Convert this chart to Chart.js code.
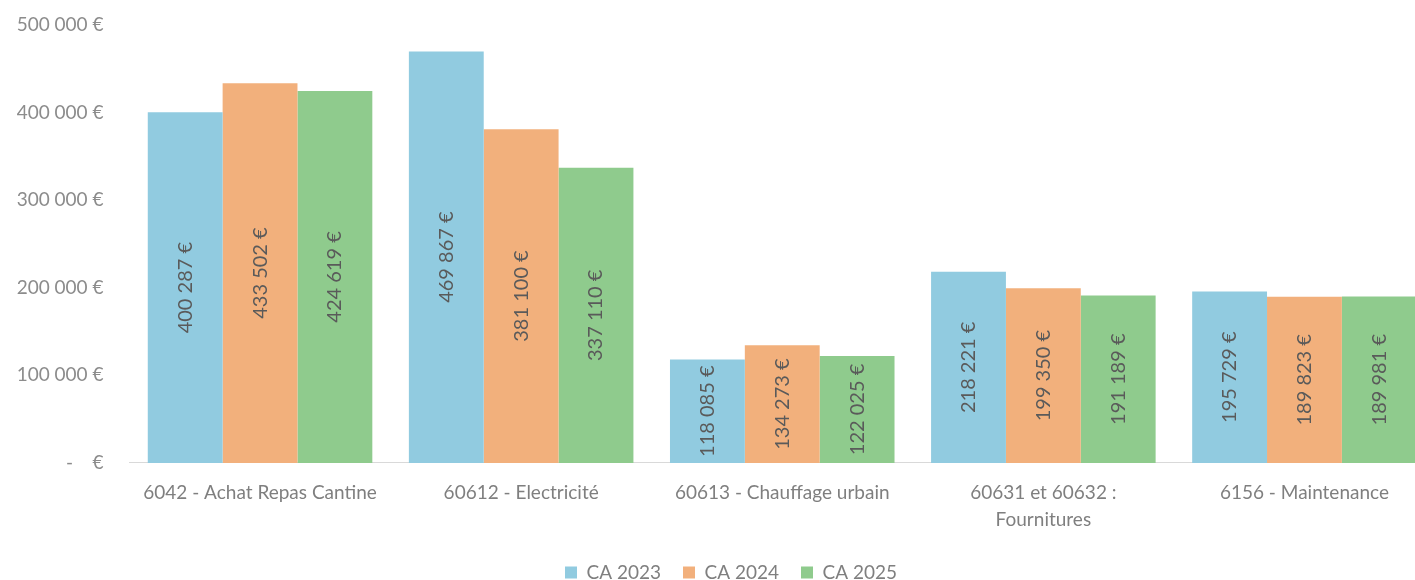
<!DOCTYPE html>
<html>
<head>
<meta charset="utf-8">
<script src="https://cdn.jsdelivr.net/npm/chart.js@4.4.1/dist/chart.umd.min.js"></script>
<style>
  html, body { margin: 0; padding: 0; background: #fff; overflow: hidden; }
  #wrap { width: 1460px; height: 580px; position: relative; }
</style>
</head>
<body>
<div id="wrap"><canvas id="chart"></canvas></div>
<script>
'use strict';

// Comptes de charges et montants par exercice
var categories = [
    '6042 - Achat Repas Cantine',
    '60612 - Electricité',
    '60613 - Chauffage urbain',
    ['60631 et 60632 :', 'Fournitures'],
    '6156 - Maintenance'
];
var seriesNames = ['CA 2023', 'CA 2024', 'CA 2025'];
var ca2023 = [400287, 469867, 118085, 218221, 195729];
var ca2024 = [433502, 381100, 134273, 199350, 189823];
var ca2025 = [424619, 337110, 122025, 191189, 189981];
var yTicks = [0, 100000, 200000, 300000, 400000, 500000];

var colors = ['#91cbe0', '#f2b07c', '#8fcb8d'];
var FONT = 'Lato, "Open Sans", sans-serif';

// 400287 -> "400 287 €"
function euros(v) {
    return String(v).replace(/\B(?=(\d{3})+(?!\d))/g, ' ') + ' €';
}

// rotated value written in the middle of each bar
var barLabels = {
    id: 'barLabels',
    afterDatasetsDraw: function (chart) {
        var ctx = chart.ctx;
        ctx.save();
        ctx.font = '20px ' + FONT;
        ctx.fillStyle = '#5a5a5a';
        ctx.textAlign = 'center';
        ctx.textBaseline = 'middle';
        chart.data.datasets.forEach(function (ds, i) {
            chart.getDatasetMeta(i).data.forEach(function (bar, j) {
                ctx.save();
                ctx.translate(bar.x, (bar.y + bar.base) / 2);
                ctx.rotate(-Math.PI / 2);
                ctx.fillText(euros(ds.data[j]), 0, 0);
                ctx.restore();
            });
        });
        ctx.restore();
    }
};

// nudge the legend a little to the right
var legendShift = {
    id: 'legendShift',
    afterLayout: function (chart) {
        if (chart.legend) {
            chart.legend.left += 27;
            chart.legend.width -= 27;
        }
    }
};

var datasets = [ca2023, ca2024, ca2025].map(function (vals, i) {
    return {
        label: seriesNames[i],
        data: vals,
        backgroundColor: colors[i],
        borderWidth: 0,
        categoryPercentage: 0.86,
        barPercentage: 1.0
    };
});

new Chart(document.getElementById('chart'), {
    type: 'bar',
    data: { labels: categories, datasets: datasets },
    options: {
        responsive: true,
        maintainAspectRatio: false,
        animation: false,
        layout: { padding: { top: 25, right: 25, left: 0, bottom: -12 } },
        scales: {
            x: {
                afterFit: function (scale) { scale.height -= 9; },
                grid: { display: false, drawTicks: false },
                border: { display: true, color: '#d9d9d9' },
                ticks: {
                    color: '#7f7f7f',
                    font: { family: FONT, size: 19, lineHeight: 1.45 },
                    padding: 16,
                    maxRotation: 0,
                    autoSkip: false
                }
            },
            y: {
                min: 0,
                max: 500000,
                afterBuildTicks: function (scale) {
                    scale.ticks = yTicks.map(function (v) { return { value: v }; });
                },
                afterFit: function (scale) {
                    scale.width = 129.5;
                    scale.paddingTop = 0;
                    scale.paddingBottom = 0;
                },
                grid: { display: false, drawTicks: false },
                border: { display: false },
                ticks: {
                    color: '#8c8c8c',
                    font: { family: FONT, size: 19 },
                    padding: 26,
                    callback: function (v) {
                        return v === 0 ? '-\u00a0\u00a0\u00a0\u00a0€' : euros(v);
                    }
                }
            }
        },
        plugins: {
            legend: {
                position: 'bottom',
                labels: {
                    color: '#7f7f7f',
                    font: { family: FONT, size: 19 },
                    boxWidth: 12,
                    boxHeight: 12,
                    padding: 22
                }
            },
            tooltip: { enabled: false }
        }
    },
    plugins: [barLabels, legendShift]
});
</script>
</body>
</html>
